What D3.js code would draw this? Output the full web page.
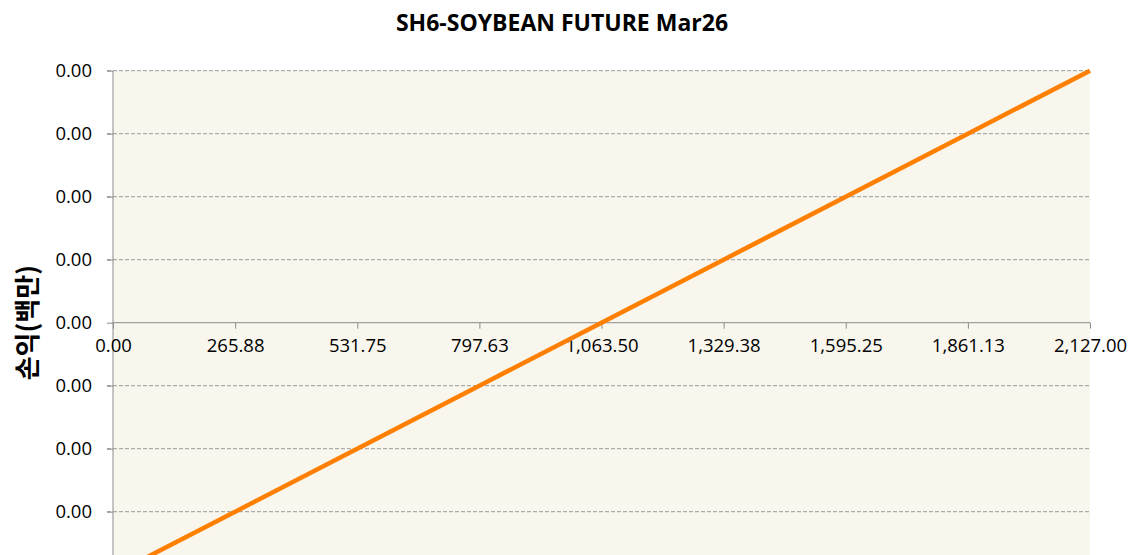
<!DOCTYPE html>
<html><head><meta charset="utf-8">
<script src="https://cdn.jsdelivr.net/npm/d3@7"></script>
<style>html,body{margin:0;padding:0;background:#fff;} svg{display:block;}</style>
</head><body>
<svg id="chart" width="1133" height="555"></svg>
<script>
const title = "SH6-SOYBEAN FUTURE Mar26";
const yTitle = "손익(백만)";
const prices = [0, 265.88, 531.75, 797.63, 1063.5, 1329.38, 1595.25, 1861.13, 2127];
const pnl = [-0.004, -0.003, -0.002, -0.001, 0, 0.001, 0.002, 0.003, 0.004];
const xTicks = [0, 265.88, 531.75, 797.63, 1063.5, 1329.38, 1595.25, 1861.13, 2127];
const yTicks = [-0.003, -0.002, -0.001, 0, 0.001, 0.002, 0.003, 0.004];

const svg = d3.select("#chart");
const L = 113, R = 1090, T = 70.7, B = 574.7;
const x = d3.scaleLinear().domain([0, 2127]).range([L, R]);
const y = d3.scaleLinear().domain([-0.004, 0.004]).range([B, T]);
const font = "'Open Sans', 'Liberation Sans', sans-serif";

svg.append("rect").attr("x", L).attr("y", T).attr("width", R - L).attr("height", B - T).attr("fill", "#f9f6ee");

// grid lines
svg.append("g").selectAll("line").data(yTicks.filter(d => d !== 0)).join("line")
  .attr("x1", L - 6).attr("x2", R).attr("y1", d => y(d)).attr("y2", d => y(d))
  .attr("stroke", "#9a9a9a").attr("stroke-width", 1).attr("stroke-dasharray", "4,2");

// y axis
const yAxis = d3.axisLeft(y).tickValues(yTicks).tickSize(6).tickPadding(15).tickFormat(d3.format(",.2f"));
const gy = svg.append("g").attr("transform", `translate(${L},0)`).call(yAxis);
gy.select(".domain").attr("stroke", "#8c8c8c").attr("d", `M0,${T}V${B}`);
gy.selectAll(".tick line").attr("stroke", "#8c8c8c");
gy.selectAll(".tick text").attr("font-family", font).attr("font-size", 18.5).attr("fill", "#000")
  .text(d => d3.format(",.2f")(Math.abs(d) < 1e-9 ? 0 : d).replace("-", ""));

// x axis at zero
const xAxis = d3.axisBottom(x).tickValues(xTicks).tickSize(6).tickPadding(10).tickFormat(d3.format(",.2f"));
const gx = svg.append("g").attr("transform", `translate(0,${y(0)})`).call(xAxis);
gx.select(".domain").attr("stroke", "#8c8c8c").attr("d", `M${L},0H${R}`);
gx.selectAll(".tick line").attr("stroke", "#8c8c8c");
gx.selectAll(".tick text").attr("font-family", font).attr("font-size", 18.5).attr("fill", "#000");

// line
const line = d3.line().x((d, i) => x(prices[i])).y(d => y(d));
svg.append("path").datum(pnl).attr("d", line).attr("fill", "none")
  .attr("stroke", "#ff8000").attr("stroke-width", 4.5);

// title
svg.append("text").attr("x", 562).attr("y", 31).attr("text-anchor", "middle")
  .attr("font-family", font).attr("font-weight", "bold").attr("font-size", 23).text(title);

// y title
svg.append("text").attr("transform", `translate(37,${y(0)}) rotate(-90)`).attr("text-anchor", "middle")
  .attr("font-family", "'Noto Sans CJK KR', sans-serif").attr("font-weight", "bold").attr("font-size", 26).text(yTitle);
</script>
</body></html>
